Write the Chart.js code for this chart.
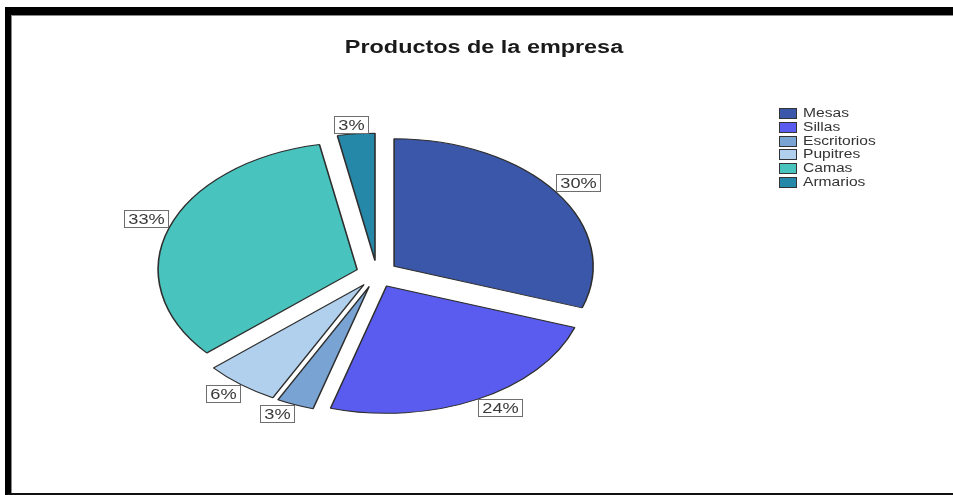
<!DOCTYPE html>
<html>
<head>
<meta charset="utf-8">
<title>Productos de la empresa</title>
<script src="https://cdn.jsdelivr.net/npm/chart.js@4.4.1/dist/chart.umd.min.js"></script>
<style>
  html, body { margin: 0; padding: 0; background: #fff; }
  #wrap { position: relative; width: 953px; height: 495px; overflow: hidden; }
  #pie { position: absolute; left: 0; top: 0; }
  .frame {
    position: absolute; left: 5px; top: 7px; width: 1000px; height: 488px;
    box-sizing: border-box;
    border-top: 8px solid #000; border-left: 6px solid #000; border-bottom: 2px solid #111;
    box-shadow: inset 1px 1px 0 #8a8a8a;
    pointer-events: none;
  }
</style>
</head>
<body>
<div id="wrap">
  <canvas id="pie" width="953" height="495"></canvas>
  <div class="frame"></div>
</div>
<script>
// Products and their share (%)
const productNames = ['Mesas', 'Sillas', 'Escritorios', 'Pupitres', 'Camas', 'Armarios'];
const productShares = [30, 24, 3, 6, 33, 3];
const sliceColors = ['#3b57a9', '#5a5cf0', '#79a3d3', '#b0d0ee', '#48c3be', '#2588a8'];
const chartTitle = 'Productos de la empresa';

const FLAT = 0.64;         // vertical squash of the pie
const EXPLODE = 21;        // how far each slice is pulled out
const STRETCH = 1.3;       // horizontal stretch for all text
const FONT = "'Liberation Sans', Arial, sans-serif";

// draw text widened horizontally around (x, y)
function wideText(ctx, text, x, y, align) {
  ctx.save();
  ctx.translate(x, y);
  ctx.scale(STRETCH, 1);
  ctx.textAlign = align;
  ctx.fillText(text, 0, 0);
  ctx.restore();
}

function clamp(v) { return Math.max(-1, Math.min(1, v)); }

// squashed, exploded slices (each arc still drawn by ArcElement.draw)
const explodedPie = {
  id: 'explodedPie',
  beforeDatasetDraw(chart, args) {
    const ctx = chart.ctx;
    args.meta.data.forEach(arc => {
      const mid = (arc.startAngle + arc.endAngle) / 2;
      ctx.save();
      ctx.translate(arc.x, arc.y);
      ctx.scale(1, FLAT);
      ctx.translate(Math.cos(mid) * EXPLODE, Math.sin(mid) * EXPLODE);
      ctx.translate(-arc.x, -arc.y);
      arc.draw(ctx);
      ctx.restore();
    });
    return false;
  }
};

// boxed percentage labels at the rim of each slice
const percentBoxes = {
  id: 'percentBoxes',
  afterDatasetsDraw(chart) {
    const ctx = chart.ctx;
    const values = chart.data.datasets[0].data;
    ctx.save();
    ctx.font = '14px ' + FONT;
    chart.getDatasetMeta(0).data.forEach((arc, i) => {
      const txt = values[i] + '%';
      const mid = (arc.startAngle + arc.endAngle) / 2;
      const r = arc.outerRadius + EXPLODE;
      const px = arc.x + Math.cos(mid) * r;
      const py = arc.y + Math.sin(mid) * r * FLAT;
      const w = Math.round(ctx.measureText(txt).width * STRETCH + 9);
      const h = 18;
      const bx = Math.round(px - w / 2 + (w / 2) * clamp(Math.cos(mid) * 3));
      const by = Math.round(py - h / 2 + (h / 2) * clamp(Math.sin(mid) * 3));
      ctx.fillStyle = '#fff';
      ctx.fillRect(bx, by, w, h);
      ctx.strokeStyle = '#6e6e6e';
      ctx.lineWidth = 1;
      ctx.strokeRect(bx + 0.5, by + 0.5, w - 1, h - 1);
      ctx.fillStyle = '#3a3a3a';
      ctx.textBaseline = 'middle';
      wideText(ctx, txt, bx + w / 2, by + h / 2 + 1, 'center');
    });
    ctx.restore();
  }
};

// title and legend
const sideText = {
  id: 'sideText',
  afterDraw(chart) {
    const ctx = chart.ctx;
    const ds = chart.data.datasets[0];
    ctx.save();
    ctx.fillStyle = '#1a1a1a';
    ctx.font = 'bold 18px ' + FONT;
    ctx.textBaseline = 'alphabetic';
    wideText(ctx, chartTitle, 484, 53, 'center');

    ctx.font = '12px ' + FONT;
    ctx.textBaseline = 'middle';
    chart.data.labels.forEach((name, i) => {
      const y = Math.round(108 + i * 13.8);
      ctx.fillStyle = ds.backgroundColor[i];
      ctx.fillRect(779, y, 18, 11);
      ctx.strokeStyle = '#333';
      ctx.lineWidth = 1;
      ctx.strokeRect(779.5, y + 0.5, 17, 10);
      ctx.fillStyle = '#333';
      wideText(ctx, name, 803, y + 6, 'left');
    });
    ctx.restore();
  }
};

new Chart(document.getElementById('pie'), {
  type: 'pie',
  data: {
    labels: productNames,
    datasets: [{
      data: productShares,
      backgroundColor: sliceColors,
      borderColor: '#2e2e2e',
      borderWidth: 1.6
    }]
  },
  plugins: [explodedPie, percentBoxes, sideText],
  options: {
    responsive: false,
    devicePixelRatio: 1,
    animation: false,
    radius: 199,
    layout: { padding: { left: 0, right: 199, top: 53, bottom: 0 } },
    plugins: {
      legend: { display: false },
      title: { display: false },
      tooltip: { enabled: false }
    }
  }
});
</script>
</body>
</html>
